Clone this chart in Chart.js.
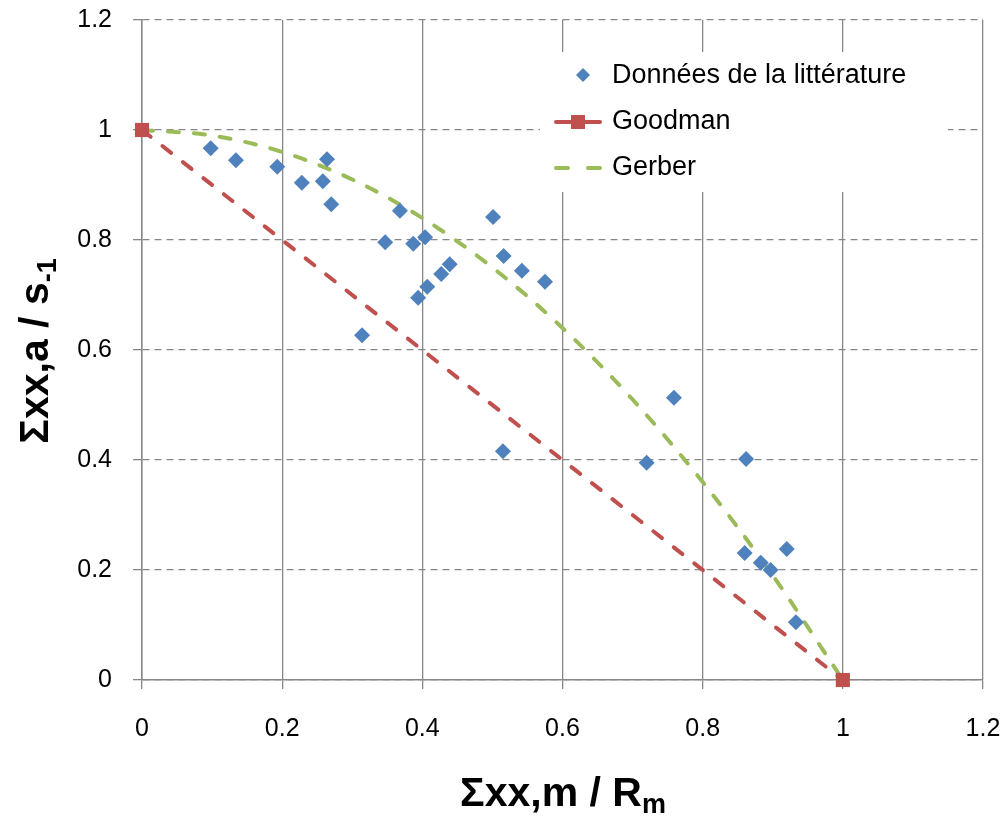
<!DOCTYPE html>
<html>
<head>
<meta charset="utf-8">
<script src="https://cdn.jsdelivr.net/npm/chart.js@4.4.1/dist/chart.umd.min.js"></script>
<style>
  html, body { margin: 0; padding: 0; background: #fff; }
  #wrap { width: 1005px; height: 816px; }
</style>
</head>
<body>
<div id="wrap"><canvas id="graf"></canvas></div>
<script>
// données de la littérature (Σm/Rm , Σa/s-1)
const litX = [0.098, 0.134, 0.193, 0.228, 0.258, 0.264, 0.270, 0.368, 0.347, 0.387,
              0.404, 0.314, 0.394, 0.407, 0.427, 0.439, 0.501, 0.516, 0.542, 0.575,
              0.515, 0.720, 0.759, 0.862, 0.860, 0.883, 0.897, 0.920, 0.933];
const litY = [0.967, 0.945, 0.933, 0.904, 0.907, 0.947, 0.865, 0.853, 0.796, 0.793,
              0.805, 0.627, 0.695, 0.715, 0.738, 0.756, 0.842, 0.771, 0.744, 0.724,
              0.416, 0.395, 0.513, 0.402, 0.231, 0.213, 0.200, 0.238, 0.105];

// droite de Goodman
const goodmanX = [0, 1];
const goodmanY = [1, 0];

// parabole de Gerber
const gerberX = [0, 0.1, 0.2, 0.3, 0.4, 0.5, 0.6, 0.7, 0.8, 0.9, 1];
const gerberY = [1, 0.99, 0.96, 0.91, 0.84, 0.75, 0.64, 0.51, 0.36, 0.19, 0];

const ticksAxe = [0, 0.2, 0.4, 0.6, 0.8, 1, 1.2];

const bleu = '#4F81BD';
const rouge = '#C0504D';
const vert = '#9BBB59';
const gris = '#878787';
const police = "'Liberation Sans', Arial, sans-serif";
const tirets = [11, 15];

const points = (xs, ys) => xs.map((x, i) => ({ x: x, y: ys[i] }));

// pas de marge automatique autour des axes
const sansMarge = (axe) => {
  axe.paddingTop = 0; axe.paddingBottom = 0;
  axe.paddingLeft = 0; axe.paddingRight = 0;
};

// légende dessinée à la main dans la zone du graphique
const legende = {
  id: 'legende',
  afterDatasetsDraw(chart) {
    const ctx = chart.ctx;
    ctx.save();
    ctx.fillStyle = '#fff';
    ctx.fillRect(540, 52, 408, 140);
    ctx.font = '27px ' + police;
    ctx.textBaseline = 'middle';
    ctx.textAlign = 'left';
    // diamant bleu
    ctx.fillStyle = bleu;
    ctx.beginPath();
    ctx.moveTo(576, 75); ctx.lineTo(583, 68); ctx.lineTo(590, 75); ctx.lineTo(583, 82);
    ctx.closePath(); ctx.fill();
    ctx.fillStyle = '#000';
    ctx.fillText('Données de la littérature', 612, 76);
    // Goodman
    ctx.strokeStyle = rouge; ctx.lineWidth = 4; ctx.lineCap = 'round';
    ctx.beginPath(); ctx.moveTo(556, 122); ctx.lineTo(600, 122); ctx.stroke();
    ctx.fillStyle = rouge;
    ctx.fillRect(571, 115, 14, 14);
    ctx.fillStyle = '#000';
    ctx.fillText('Goodman', 612, 122);
    // Gerber
    ctx.strokeStyle = vert;
    ctx.beginPath();
    ctx.moveTo(556, 168); ctx.lineTo(568, 168);
    ctx.moveTo(588, 168); ctx.lineTo(600, 168);
    ctx.stroke();
    ctx.fillText('Gerber', 612, 168);
    ctx.restore();
  }
};

// titres des axes avec indices
const titres = {
  id: 'titres',
  afterDraw(chart) {
    const ctx = chart.ctx;
    ctx.save();
    ctx.fillStyle = '#000';
    ctx.textBaseline = 'alphabetic';
    const grand = 'bold 41px ' + police;
    const petit = 'bold 27px ' + police;
    // axe x
    ctx.font = grand;
    const base = 'Σxx,m / R';
    const w1 = ctx.measureText(base).width;
    ctx.font = petit;
    const w2 = ctx.measureText('m').width;
    let x0 = 563 - (w1 + w2) / 2;
    ctx.font = grand;
    ctx.fillText(base, x0, 806);
    ctx.font = petit;
    ctx.fillText('m', x0 + w1, 813);
    // axe y
    ctx.translate(48, 351);
    ctx.rotate(-Math.PI / 2);
    ctx.font = grand;
    const baseY = 'Σxx,a / s';
    const v1 = ctx.measureText(baseY).width;
    ctx.font = petit;
    const v2 = ctx.measureText('-1').width;
    x0 = -(v1 + v2) / 2;
    ctx.font = grand;
    ctx.fillText(baseY, x0, 0);
    ctx.font = petit;
    ctx.fillText('-1', x0 + v1, 8);
    ctx.restore();
  }
};

const contenedor = document.getElementById('graf');
const grafico = new Chart(contenedor, {
  type: 'scatter',
  data: {
    datasets: [
      {
        label: 'Données de la littérature',
        data: points(litX, litY),
        pointStyle: 'rectRot',
        pointRadius: 8,
        pointHoverRadius: 8,
        backgroundColor: bleu,
        borderColor: bleu,
        borderWidth: 0,
        showLine: false,
        order: 1
      },
      {
        label: 'Goodman',
        data: points(goodmanX, goodmanY),
        showLine: true,
        borderColor: rouge,
        backgroundColor: rouge,
        borderWidth: 4,
        borderDash: tirets,
        borderCapStyle: 'round',
        pointStyle: 'rect',
        pointRadius: 10,
        pointBorderWidth: 0,
        clip: false,
        order: 2
      },
      {
        label: 'Gerber',
        data: points(gerberX, gerberY),
        showLine: true,
        borderColor: vert,
        backgroundColor: vert,
        borderWidth: 4,
        borderDash: tirets,
        borderCapStyle: 'round',
        cubicInterpolationMode: 'monotone',
        pointRadius: 0,
        clip: false,
        order: 3
      }
    ]
  },
  options: {
    responsive: true,
    maintainAspectRatio: false,
    animation: false,
    events: [],
    layout: { padding: { top: 20, right: 22, left: 0, bottom: 0 } },
    plugins: {
      legend: { display: false },
      tooltip: { enabled: false }
    },
    scales: {
      x: {
        type: 'linear',
        min: 0,
        max: 1.2,
        afterBuildTicks: (axe) => { axe.ticks = ticksAxe.map(v => ({ value: v })); },
        afterFit: (axe) => { axe.height = 136; sansMarge(axe); },
        grid: { color: gris, lineWidth: 1.3, tickLength: 9 },
        border: { color: gris, width: 1.5 },
        ticks: {
          color: '#000',
          padding: 25,
          maxRotation: 0,
          font: { family: police, size: 25 },
          callback: (v) => String(v)
        }
      },
      y: {
        type: 'linear',
        min: 0,
        max: 1.2,
        afterBuildTicks: (axe) => { axe.ticks = ticksAxe.map(v => ({ value: v })); },
        afterFit: (axe) => { axe.width = 142; sansMarge(axe); },
        grid: { color: gris, lineWidth: 1.3, tickLength: 9, tickBorderDash: [] },
        border: { color: gris, width: 1.5, dash: [7, 5] },
        ticks: {
          color: '#000',
          padding: 21,
          font: { family: police, size: 25 },
          callback: (v) => String(v)
        }
      }
    }
  },
  plugins: [legende, titres]
});
</script>
</body>
</html>
